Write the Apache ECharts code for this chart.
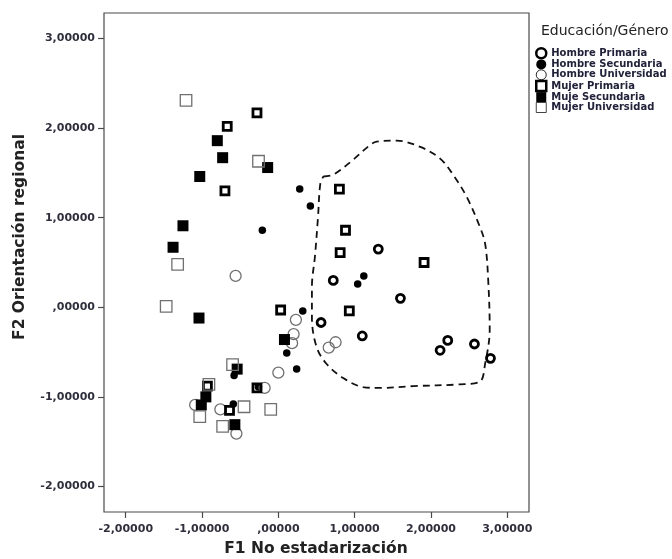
<!DOCTYPE html>
<html>
<head>
<meta charset="utf-8">
<title>F1 / F2 por Educación y Género</title>
<script src="https://cdn.jsdelivr.net/npm/echarts@6/dist/echarts.min.js"></script>
<style>
  html, body { margin: 0; padding: 0; background: #ffffff; }
  #chart { width: 672px; height: 559px; }
</style>
</head>
<body>
<div id="chart"></div>
<script>
// Puntuaciones factoriales [F1, F2] por grupo
const hombrePrimaria = [
  [0.56, -0.17], [0.72, 0.30], [1.31, 0.65], [1.60, 0.10], [1.10, -0.32],
  [2.22, -0.37], [2.12, -0.48], [2.57, -0.41], [2.78, -0.57]
];
const hombreSecundaria = [
  [0.28, 1.32], [0.42, 1.13], [-0.21, 0.86], [1.12, 0.35], [1.04, 0.26],
  [0.32, -0.04], [0.11, -0.51], [0.24, -0.69], [-0.58, -0.76], [-0.26, -0.89],
  [-0.59, -1.08]
];
const hombreUniversidad = [
  [-0.56, 0.35], [0.23, -0.14], [0.20, -0.30], [0.18, -0.40], [0.75, -0.39],
  [0.66, -0.45], [0.00, -0.73], [-0.18, -0.90], [-1.09, -1.09], [-0.76, -1.14],
  [-0.55, -1.41]
];
const mujerPrimaria = [
  [-0.28, 2.17], [-0.67, 2.02], [-0.70, 1.30], [0.80, 1.32], [0.88, 0.86],
  [0.81, 0.61], [1.91, 0.50], [0.93, -0.04], [0.03, -0.03], [-0.28, -0.90],
  [-0.64, -1.15], [-0.93, -0.88]
];
const mujeSecundaria = [
  [-0.80, 1.86], [-0.73, 1.67], [-0.14, 1.56], [-1.03, 1.46], [-1.25, 0.91],
  [-1.38, 0.67], [-1.04, -0.12], [0.08, -0.36], [-0.54, -0.69], [-0.95, -1.00],
  [-1.01, -1.09], [-0.57, -1.31]
];
const mujerUniversidad = [
  [-1.21, 2.31], [-0.26, 1.63], [-1.32, 0.48], [-1.47, 0.01], [-0.60, -0.64],
  [-0.91, -0.86], [-1.03, -1.22], [-0.45, -1.11], [-0.10, -1.14], [-0.73, -1.33]
];

// Contorno discontinuo que rodea el grupo de la derecha
const contorno = [
  [0.59, 1.46], [0.72, 1.48], [0.97, 1.64], [1.20, 1.81], [1.29, 1.85],
  [1.55, 1.86], [1.86, 1.79], [2.12, 1.66], [2.29, 1.48], [2.47, 1.23],
  [2.64, 0.90], [2.71, 0.71], [2.75, 0.31], [2.77, -0.25], [2.71, -0.63],
  [2.64, -0.83], [2.38, -0.86], [1.77, -0.88], [1.33, -0.90], [1.11, -0.89],
  [0.85, -0.79], [0.63, -0.63], [0.50, -0.44], [0.44, -0.11], [0.44, 0.23],
  [0.48, 0.57], [0.52, 1.01], [0.55, 1.38], [0.59, 1.46]
];

// Marcas de los ejes
const xTickValues = [-2, -1, 0, 1, 2, 3];
const xTickLabels = ['-2,00000', '-1,00000', ',00000', '1,00000', '2,00000', '3,00000'];
const yTickValues = [-2, -1, 0, 1, 2, 3];
const yTickLabels = ['-2,00000', '-1,00000', ',00000', '1,00000', '2,00000', '3,00000'];

const seriesNames = ['Hombre Primaria', 'Hombre Secundaria', 'Hombre Universidad',
                     'Mujer Primaria', 'Muje Secundaria', 'Mujer Universidad'];

function tickLabel(values, labels) {
  return function (v) {
    for (let i = 0; i < values.length; i++) {
      if (Math.abs(values[i] - v) < 1e-6) return labels[i];
    }
    return '';
  };
}

const FONT = '"DejaVu Sans", "Liberation Sans", sans-serif';
const LABEL_COLOR = '#2e2e3c';
const AXIS_COLOR = '#4a4a4a';

// Estilos de símbolo por grupo
const styles = [
  { symbol: 'circle', size: 8,    itemStyle: { color: 'rgba(255,255,255,0)', borderColor: '#000', borderWidth: 2.8, opacity: 1 } },
  { symbol: 'circle', size: 7.5,  itemStyle: { color: '#000', borderWidth: 0, opacity: 1 } },
  { symbol: 'circle', size: 11,   itemStyle: { color: 'rgba(255,255,255,0)', borderColor: '#707070', borderWidth: 1.3, opacity: 1 } },
  { symbol: 'rect',   size: 8,    itemStyle: { color: 'rgba(255,255,255,0)', borderColor: '#000', borderWidth: 2.8, opacity: 1 } },
  { symbol: 'rect',   size: 11,   itemStyle: { color: '#000', borderWidth: 0, opacity: 1 } },
  { symbol: 'rect',   size: 11.5, itemStyle: { color: 'rgba(255,255,255,0)', borderColor: '#707070', borderWidth: 1.3, opacity: 1 } }
];
const groups = [hombrePrimaria, hombreSecundaria, hombreUniversidad,
                mujerPrimaria, mujeSecundaria, mujerUniversidad];

const legendIcons = [
  { icon: 'circle', itemStyle: { color: '#fff', borderColor: '#000', borderWidth: 2.5, opacity: 1 } },
  { icon: 'circle', itemStyle: { color: '#000', borderWidth: 0, opacity: 1 } },
  { icon: 'circle', itemStyle: { color: '#fff', borderColor: '#222', borderWidth: 1, opacity: 1 } },
  { icon: 'rect',   itemStyle: { color: '#fff', borderColor: '#000', borderWidth: 2.5, opacity: 1 } },
  { icon: 'rect',   itemStyle: { color: '#000', borderWidth: 0, opacity: 1 } },
  { icon: 'rect',   itemStyle: { color: '#fff', borderColor: '#444', borderWidth: 1, opacity: 1 } }
];

const scatterSeries = groups.map((data, i) => ({
  name: seriesNames[i],
  type: 'scatter',
  data: data,
  symbol: styles[i].symbol,
  symbolSize: styles[i].size,
  itemStyle: styles[i].itemStyle,
  emphasis: { disabled: true },
  z: 3
}));

const chart = echarts.init(document.getElementById('chart'), null, { renderer: 'canvas' });

chart.setOption({
  animation: false,
  backgroundColor: '#ffffff',
  grid: {
    left: 104, right: 143, top: 13, bottom: 47,
    show: true, borderColor: AXIS_COLOR, borderWidth: 1.2,
    backgroundColor: 'transparent',
    containLabel: false,
    outerBoundsMode: 'none'
  },
  xAxis: {
    type: 'value',
    min: -2.285, max: 3.285,
    axisLine: { show: false, onZero: false },
    splitLine: { show: false },
    axisTick: { show: true, customValues: xTickValues, length: 6, lineStyle: { color: AXIS_COLOR, width: 1.2 } },
    axisLabel: {
      customValues: xTickValues,
      formatter: tickLabel(xTickValues, xTickLabels),
      margin: 12,
      color: LABEL_COLOR, fontFamily: FONT, fontWeight: 'bold', fontSize: 11
    }
  },
  yAxis: {
    type: 'value',
    min: -2.285, max: 3.285,
    axisLine: { show: false, onZero: false },
    splitLine: { show: false },
    axisTick: { show: true, customValues: yTickValues, length: 6, lineStyle: { color: AXIS_COLOR, width: 1.2 } },
    axisLabel: {
      customValues: yTickValues,
      formatter: tickLabel(yTickValues, yTickLabels),
      margin: 9,
      color: LABEL_COLOR, fontFamily: FONT, fontWeight: 'bold', fontSize: 11
    }
  },
  legend: {
    orient: 'vertical',
    left: 535, top: 47,
    padding: 0,
    itemWidth: 10, itemHeight: 10, itemGap: -0.6,
    selectedMode: false,
    textStyle: { color: '#22223a', fontFamily: FONT, fontWeight: 'bold', fontSize: 10, lineHeight: 11 },
    data: seriesNames.map((n, i) => ({ name: n, icon: legendIcons[i].icon, itemStyle: legendIcons[i].itemStyle }))
  },
  graphic: [
    {
      type: 'text', left: 541, top: 24,
      style: { text: 'Educación/Género', fill: '#222', font: '14px ' + FONT }
    },
    {
      type: 'text', x: 316, y: 549,
      style: { text: 'F1 No estadarización', fill: '#222', font: 'bold 15.5px ' + FONT, align: 'center', verticalAlign: 'middle' }
    },
    {
      type: 'text', x: 20, y: 237, rotation: Math.PI / 2,
      style: { text: 'F2 Orientación regional', fill: '#222', font: 'bold 15.5px ' + FONT, align: 'center', verticalAlign: 'middle' }
    }
  ],
  series: scatterSeries.concat([{
    name: 'contorno',
    type: 'line',
    data: contorno,
    smooth: 0.35,
    symbol: 'none',
    silent: true,
    lineStyle: { color: '#111', width: 1.8, type: [7, 5] },
    z: 2
  }])
});
</script>
</body>
</html>
